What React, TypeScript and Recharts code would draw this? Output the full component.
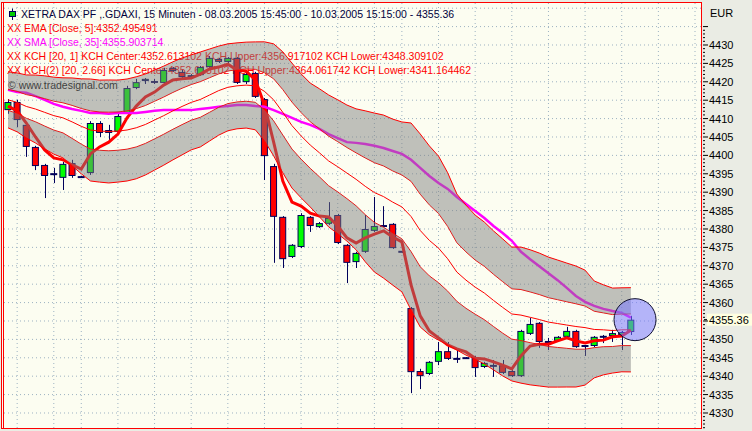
import { ComposedChart, Bar, Line, Area, XAxis, YAxis, ReferenceLine, ReferenceDot } from 'recharts'

const FONT = "'Liberation Sans', Arial, sans-serif"
const NAVY = '#00005A'
const RED = '#FF0000'

// XETRA DAX, 15 min bars, 08.03.2005 15:45 - 10.03.2005 15:15
const openPrices = [
  4412.3, 4414.5, 4408.3, 4402.3, 4397.4, 4394.9, 4393.9, 4397.9, 4394.1, 4395.2,
  4408.8, 4406.9, 4406.4, 4411.5, 4418.3, 4420.2, 4420.2, 4419.7, 4423.8, 4422.7,
  4421.3, 4421.8, 4424.0, 4426.2, 4425.4, 4426.5, 4419.9, 4422.4, 4415.3, 4397.1,
  4383.3, 4372.4, 4375.1, 4383.3, 4380.5, 4381.4, 4383.8, 4375.7, 4371.0, 4373.8,
  4379.5, 4380.8, 4381.4, 4373.8, 4358.5, 4341.4, 4340.6, 4343.9, 4346.8, 4344.7,
  4344.9, 4345.2, 4342.5, 4342.8, 4343.0, 4341.4, 4340.0, 4351.5, 4354.5, 4349.3,
  4349.6, 4350.7, 4352.3, 4348.2, 4348.2, 4350.7, 4350.9, 4351.2, 4352.0,
]
const highPrices = [
  4415.3, 4415.1, 4408.5, 4402.6, 4397.7, 4396.6, 4398.2, 4398.8, 4394.4, 4409.3,
  4409.3, 4408.3, 4411.3, 4418.9, 4420.8, 4421.0, 4420.8, 4423.8, 4424.0, 4423.2,
  4422.1, 4424.3, 4427.0, 4426.5, 4426.7, 4426.7, 4422.7, 4422.7, 4415.6, 4397.7,
  4383.5, 4375.9, 4384.3, 4383.5, 4381.9, 4387.3, 4384.1, 4375.9, 4373.8, 4383.8,
  4388.7, 4386.2, 4381.6, 4374.0, 4358.8, 4342.0, 4344.1, 4349.3, 4349.3, 4347.1,
  4345.2, 4345.5, 4343.9, 4344.4, 4344.4, 4341.7, 4352.6, 4355.8, 4354.7, 4350.4,
  4350.9, 4353.4, 4352.6, 4348.5, 4350.9, 4351.2, 4352.6, 4352.3, 4356.4,
]
const lowPrices = [
  4411.3, 4407.7, 4399.6, 4396.0, 4388.4, 4392.5, 4390.6, 4393.9, 4393.9, 4394.7,
  4405.0, 4404.2, 4406.1, 4411.3, 4418.0, 4419.4, 4419.4, 4419.4, 4422.7, 4421.0,
  4421.0, 4421.6, 4423.8, 4425.1, 4425.1, 4419.4, 4419.4, 4415.6, 4393.3, 4370.8,
  4369.4, 4372.1, 4374.8, 4379.2, 4380.3, 4381.1, 4375.9, 4365.3, 4369.4, 4373.5,
  4379.2, 4380.5, 4374.6, 4373.5, 4335.4, 4336.5, 4340.3, 4343.0, 4344.4, 4343.6,
  4344.7, 4339.8, 4342.2, 4339.8, 4340.6, 4339.8, 4339.8, 4351.2, 4347.7, 4347.1,
  4349.3, 4350.4, 4347.7, 4345.5, 4347.9, 4349.0, 4349.3, 4347.1, 4351.2,
]
const closePrices = [
  4414.5, 4409.6, 4402.3, 4397.1, 4394.4, 4394.9, 4397.7, 4394.4, 4394.1, 4408.8,
  4406.1, 4406.1, 4410.7, 4418.3, 4419.9, 4420.8, 4419.7, 4423.2, 4422.9, 4421.3,
  4421.8, 4424.0, 4426.5, 4425.4, 4426.5, 4419.7, 4422.1, 4415.9, 4399.8, 4383.3,
  4371.8, 4375.7, 4383.8, 4380.8, 4381.6, 4383.0, 4376.2, 4370.8, 4373.5, 4380.0,
  4380.8, 4380.8, 4374.8, 4373.8, 4341.1, 4340.0, 4343.9, 4346.8, 4344.7, 4344.7,
  4344.9, 4342.2, 4343.6, 4342.8, 4340.9, 4340.0, 4352.3, 4354.2, 4349.3, 4349.3,
  4350.7, 4352.3, 4347.9, 4348.2, 4350.7, 4350.7, 4351.7, 4352.0, 4355.36,
]
const emaValues = [
  4413.4, 4412.1, 4408.8, 4405.0, 4401.5, 4399.3, 4398.8, 4397.4, 4396.3, 4400.4,
  4402.3, 4403.6, 4405.8, 4410.2, 4413.4, 4415.9, 4417.2, 4419.1, 4420.5, 4420.8,
  4421.0, 4422.1, 4423.5, 4424.0, 4424.8, 4423.2, 4422.9, 4420.5, 4413.7, 4403.6,
  4393.0, 4387.3, 4386.2, 4384.3, 4383.5, 4383.3, 4380.8, 4377.6, 4376.2, 4377.6,
  4378.6, 4379.5, 4377.8, 4376.5, 4364.8, 4356.4, 4352.3, 4350.4, 4348.5, 4347.4,
  4346.6, 4344.9, 4344.7, 4343.9, 4343.0, 4342.0, 4345.5, 4348.2, 4348.7, 4348.7,
  4349.6, 4350.4, 4349.6, 4349.0, 4349.6, 4349.8, 4350.7, 4350.9, 4352.5,
]
const smaValues = [
  4417.8, 4417.2, 4417.0, 4416.1, 4415.1, 4414.0, 4413.2, 4412.6, 4412.1, 4411.5,
  4411.5, 4411.3, 4411.5, 4411.5, 4411.5, 4411.8, 4412.1, 4412.3, 4412.3, 4412.3,
  4412.3, 4412.6, 4412.9, 4413.2, 4413.4, 4413.7, 4413.7, 4413.4, 4413.2, 4412.3,
  4411.3, 4410.2, 4409.1, 4408.3, 4407.2, 4405.8, 4404.7, 4403.6, 4403.4, 4403.1,
  4402.6, 4402.0, 4401.2, 4400.4, 4398.8, 4396.6, 4394.4, 4392.5, 4390.9, 4388.7,
  4386.8, 4384.9, 4383.0, 4380.8, 4378.9, 4376.8, 4373.8, 4371.8, 4369.9, 4368.0,
  4366.1, 4364.0, 4361.8, 4360.2, 4359.1, 4358.3, 4357.7, 4357.2, 4355.9,
]
// keltner channel: centre line and channel unit (upper = centre + factor * unit)
const kchCenter = [
  4415.1, 4414.4, 4413.3, 4412.6, 4411.7, 4410.8, 4410.2, 4409.1, 4407.9, 4406.9,
  4406.6, 4406.5, 4406.6, 4406.9, 4407.5, 4408.4, 4409.6, 4410.8, 4412.1, 4413.3,
  4414.4, 4415.2, 4416.4, 4417.6, 4418.5, 4418.9, 4419.1, 4418.9, 4417.4, 4415.1,
  4411.7, 4408.1, 4405.3, 4402.8, 4400.7, 4398.5, 4396.9, 4395.2, 4393.5, 4391.6,
  4389.9, 4388.8, 4387.3, 4386.0, 4383.4, 4379.6, 4376.9, 4374.8, 4371.9, 4368.3,
  4366.1, 4364.2, 4362.6, 4360.6, 4358.7, 4356.9, 4356.6, 4356.0, 4355.4, 4354.7,
  4354.3, 4353.9, 4353.5, 4353.2, 4352.7, 4352.6, 4352.4, 4352.6, 4352.61,
]
const kchUnit = [
  2.86, 3.01, 3.22, 3.47, 3.73, 3.93, 4.09, 4.49, 4.85, 5.21,
  5.21, 5.26, 5.21, 5.21, 5.21, 5.16, 5.11, 5.06, 5.01, 4.95,
  4.85, 4.85, 4.70, 4.55, 4.44, 4.39, 4.39, 4.49, 5.06, 5.72,
  6.18, 6.38, 6.33, 6.33, 6.54, 6.74, 6.84, 6.95, 7.20, 7.71,
  8.12, 8.33, 8.48, 8.68, 9.55, 9.86, 9.65, 9.40, 8.79, 7.97,
  7.66, 7.36, 7.25, 7.10, 7.00, 6.84, 6.95, 6.90, 6.79, 6.64,
  6.49, 6.33, 6.18, 5.87, 4.95, 4.60, 4.34, 4.29, 4.304,
]
const KCH_INNER = 1
const KCH_OUTER = 2.66
const LAST_PRICE = 4355.36

// full hours (bar index), used for the vertical grid
const hourBars = [1, 5, 8, 12, 16, 20, 24, 28, 32, 36, 40, 43, 47, 51, 55, 59, 63, 67, 71, 75]
const gridPrices = [4330, 4335, 4340, 4345, 4350, 4355, 4360, 4365, 4370, 4375, 4380, 4385, 4390, 4395, 4400, 4405, 4410, 4415, 4420, 4425, 4430, 4435, 4440]
// 4355 is covered by the last-price flag
const labelPrices = [4330, 4335, 4340, 4345, 4350, 4360, 4365, 4370, 4375, 4380, 4385, 4390, 4395, 4400, 4405, 4410, 4415, 4420, 4425, 4430]
const axisTicks = Array.from({ length: 110 }, (_, k) => 4326 + k)

const titleText = 'XETRA DAX PF ,.GDAXI, 15 Minuten - 08.03.2005 15:45:00 - 10.03.2005 15:15:00 - 4355.36'
const legendRows = [
  { text: 'EMA [Close, 5]:4352.495491', color: '#FF0000' },
  { text: 'SMA [Close, 35]:4355.903714', color: '#FF00FF' },
  { text: 'KCH [20, 1] KCH Center:4352.613102 KCH Upper:4356.917102 KCH Lower:4348.309102', color: '#FF0000' },
  { text: 'KCH(2) [20, 2.66] KCH Center:4352.613102 KCH Upper:4364.061742 KCH Lower:4341.164462', color: '#FF0000' },
]

const data = openPrices.map((open, i) => {
  const close = closePrices[i]
  const c = kchCenter[i]
  const u = kchUnit[i]
  return {
    bar: i,
    wick: [lowPrices[i], highPrices[i]],
    body: [Math.min(open, close), Math.max(open, close)],
    rising: close >= open,
    ema: emaValues[i],
    sma: smaValues[i],
    center: c,
    upper1: c + KCH_INNER * u,
    lower1: c - KCH_INNER * u,
    upper2: c + KCH_OUTER * u,
    lower2: c - KCH_OUTER * u,
    upperBand: [c + KCH_INNER * u, c + KCH_OUTER * u],
    lowerBand: [c - KCH_OUTER * u, c - KCH_INNER * u],
  }
})

const X_DOMAIN = [-0.655, 75.655]
const Y_DOMAIN = [4325.92, 4441.41]

function Wick(props: any) {
  const { x, y, width, height } = props
  const cx = Math.round(x + width / 2) + 0.5
  return <line x1={cx} x2={cx} y1={y} y2={y + height} stroke={NAVY} strokeWidth={1} />
}

function Body(props: any) {
  const { x, y, width, height, payload } = props
  if (!height || height < 1.5) {
    return <line x1={x} x2={x + width} y1={y} y2={y} stroke={NAVY} strokeWidth={2} />
  }
  return (
    <rect
      x={x + 0.5}
      y={y + 0.5}
      width={width - 1}
      height={height - 1}
      fill={payload.rising ? '#00FF00' : '#FF0000'}
      stroke={NAVY}
      strokeWidth={1}
    />
  )
}

function PriceTick(props: any) {
  const { x, y, payload } = props
  const v = payload.value
  const major = v % 5 === 0
  return (
    <g>
      <line x1={x + 2} x2={x + (major ? 7 : 4)} y1={y} y2={y} stroke='#000' strokeWidth={1} />
      {major && labelPrices.includes(v) && (
        <text x={x + 8} y={y} dy={4} fontFamily={FONT} fontSize={11} fill='#000' textAnchor='start'>
          {v}
        </text>
      )}
    </g>
  )
}

function PriceFlag(props: any) {
  const { viewBox } = props
  const left = viewBox.x + viewBox.width
  const y = viewBox.y
  return (
    <g>
      <line x1={left + 3} x2={left + 6} y1={y} y2={y} stroke='#000' />
      <rect x={left + 6} y={y - 6} width={46} height={12} fill='#FFFFE0' />
      <text x={left + 8} y={y} dy={4} fontFamily={FONT} fontSize={11} fill='#000'>
        {LAST_PRICE.toFixed(2)}
      </text>
    </g>
  )
}

export default function App() {
  return (
    <div style={{ position: 'absolute', left: 0, top: 0, width: 752, height: 431, background: '#EAECE4', overflow: 'hidden', fontFamily: FONT }}>
      <div style={{ position: 'absolute', left: 2, top: 3, width: 699, height: 425, background: '#FCFDF1' }} />

      <div style={{ position: 'absolute', left: 0, top: 0, fontSize: 10.5, lineHeight: '14px', whiteSpace: 'nowrap' }}>
        <div style={{ position: 'absolute', left: 8, top: 7, display: 'flex', alignItems: 'center' }}>
          <svg width={9} height={12} style={{ marginRight: 4 }}>
            <line x1={4.5} x2={4.5} y1={0} y2={12} stroke={NAVY} />
            <rect x={1.5} y={3.5} width={6} height={5} fill='#00CC00' stroke={NAVY} />
          </svg>
          <span style={{ color: '#00003C' }}>{titleText}</span>
        </div>
        {legendRows.map((row, k) => (
          <div key={row.text} style={{ position: 'absolute', left: 7, top: 20.5 + k * 14, color: row.color }}>
            XX {row.text}
          </div>
        ))}
        <div style={{ position: 'absolute', left: 8, top: 78, color: '#000' }}>© www.tradesignal.com</div>
      </div>

      <div style={{ position: 'absolute', left: 0, top: 0 }}>
        <ComposedChart width={752} height={431} data={data} margin={{ top: 3, right: 0, bottom: 3, left: 2 }}>
          <XAxis xAxisId='main' dataKey='bar' type='number' domain={X_DOMAIN} allowDataOverflow hide />
          <XAxis xAxisId='wick' dataKey='bar' type='number' domain={X_DOMAIN} allowDataOverflow hide />
          <XAxis xAxisId='body' dataKey='bar' type='number' domain={X_DOMAIN} allowDataOverflow hide />
          <YAxis
            orientation='right'
            type='number'
            width={51}
            domain={Y_DOMAIN}
            allowDataOverflow
            ticks={axisTicks}
            interval={0}
            tickSize={0}
            tickMargin={0}
            tickLine={false}
            axisLine={false}
            tick={<PriceTick />}
          />

          {gridPrices.map(p => (
            <ReferenceLine key={'h' + p} xAxisId='main' y={p} stroke='#9DB2C2' strokeDasharray='1 3' zIndex={-50} />
          ))}
          {hourBars.map(b => (
            <ReferenceLine key={'v' + b} xAxisId='main' x={b} stroke='#9DB2C2' strokeDasharray='1 3' zIndex={-50} />
          ))}

          <Bar xAxisId='wick' dataKey='wick' barSize={1} shape={<Wick />} isAnimationActive={false} />
          <Bar xAxisId='body' dataKey='body' barSize={7} shape={<Body />} isAnimationActive={false} />

          <Line xAxisId='main' dataKey='ema' stroke={RED} strokeWidth={3} dot={false} activeDot={false} isAnimationActive={false} />
          <Line xAxisId='main' dataKey='sma' stroke='#FF00FF' strokeWidth={2.5} dot={false} activeDot={false} isAnimationActive={false} />
          <Line xAxisId='main' dataKey='center' stroke={RED} strokeWidth={1} dot={false} activeDot={false} isAnimationActive={false} />
          <Line xAxisId='main' dataKey='upper1' stroke={RED} strokeWidth={1} dot={false} activeDot={false} isAnimationActive={false} />
          <Line xAxisId='main' dataKey='lower1' stroke={RED} strokeWidth={1} dot={false} activeDot={false} isAnimationActive={false} />

          <Area xAxisId='main' dataKey='upperBand' stroke='none' fill='#7D7D7D' fillOpacity={0.48} dot={false} activeDot={false} isAnimationActive={false} zIndex={450} />
          <Area xAxisId='main' dataKey='lowerBand' stroke='none' fill='#7D7D7D' fillOpacity={0.48} dot={false} activeDot={false} isAnimationActive={false} zIndex={450} />

          <Line xAxisId='main' dataKey='upper2' stroke={RED} strokeWidth={1} dot={false} activeDot={false} isAnimationActive={false} zIndex={460} />
          <Line xAxisId='main' dataKey='lower2' stroke={RED} strokeWidth={1} dot={false} activeDot={false} isAnimationActive={false} zIndex={460} />

          <ReferenceDot xAxisId='main' x={68.45} y={LAST_PRICE} r={21} fill='#7878FF' fillOpacity={0.55} stroke='#101030' strokeWidth={1} ifOverflow='visible' zIndex={470} />
          <ReferenceLine xAxisId='main' y={LAST_PRICE} stroke='none' label={(p: any) => <PriceFlag {...p} />} zIndex={480} />
        </ComposedChart>
      </div>

      <div style={{ position: 'absolute', left: 1, top: 2, width: 701, height: 427, border: '1px solid #FF0000', boxSizing: 'border-box', pointerEvents: 'none' }} />
      <div style={{ position: 'absolute', left: 3, top: 2, width: 1, height: 427, background: '#FF0000', pointerEvents: 'none' }} />
      <div style={{ position: 'absolute', left: 710, top: 7, fontSize: 11, color: '#000' }}>EUR</div>
    </div>
  )
}
